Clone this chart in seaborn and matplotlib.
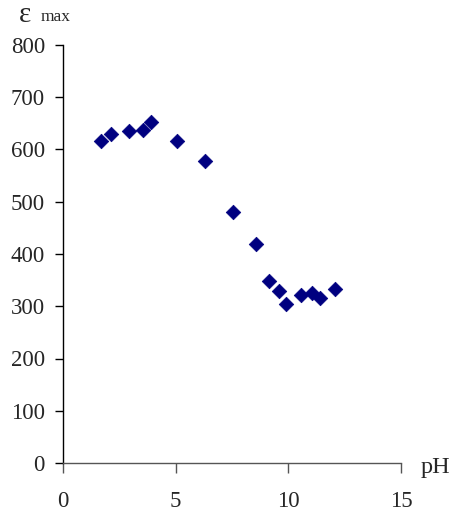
import matplotlib
matplotlib.use("Agg")
import matplotlib.pyplot as plt
import seaborn as sns
import pandas as pd

ph = [1.7, 2.15, 2.95, 3.55, 3.9, 5.05, 6.3, 7.55, 8.55, 9.15, 9.6, 9.9, 10.55, 11.05, 11.4, 12.05]
eps = [617, 629, 635, 638, 653, 617, 578, 481, 419, 348, 330, 304, 322, 326, 316, 333]

sns.set_style("white")
plt.rcParams['font.family'] = ['Liberation Serif', 'DejaVu Serif']

df = pd.DataFrame({"pH": ph, "eps": eps})

fig = plt.figure(figsize=(4.58, 5.20), dpi=100)
ax = fig.add_axes([63/458, 57/520, (401-63)/458, (463-45)/520])
sns.scatterplot(data=df, x="pH", y="eps", marker="D", s=55, color="#000080",
                edgecolor="#000080", linewidth=0.5, ax=ax, clip_on=False)

ax.set_xlim(0, 15)
ax.set_ylim(0, 800)
ax.set_xticks([0, 5, 10, 15])
ax.set_yticks(range(0, 801, 100))
ax.set_xlabel("")
ax.set_ylabel("")
for s in ["top", "right"]:
    ax.spines[s].set_visible(False)
ax.spines["left"].set_color("black")
ax.spines["bottom"].set_color("#555555")
ax.spines["left"].set_linewidth(1.0)
ax.spines["bottom"].set_linewidth(1.0)
ax.tick_params(axis="x", direction="out", length=7, width=1, color="#555555",
               pad=13, labelsize=16.5, bottom=True)
ax.tick_params(axis="y", direction="out", length=6, width=1, color="black",
               pad=7, labelsize=16.5, left=True)

fig.text(421/458, 1 - 467/520, "pH", fontsize=17.5, ha="left", va="center")
fig.text(19/458, 1 - 15/520, "ε", fontsize=21, ha="left", va="center")
fig.text(41/458, 1 - 17/520, "max", fontsize=12.5, ha="left", va="center")

fig.savefig("out.png", dpi=100)
